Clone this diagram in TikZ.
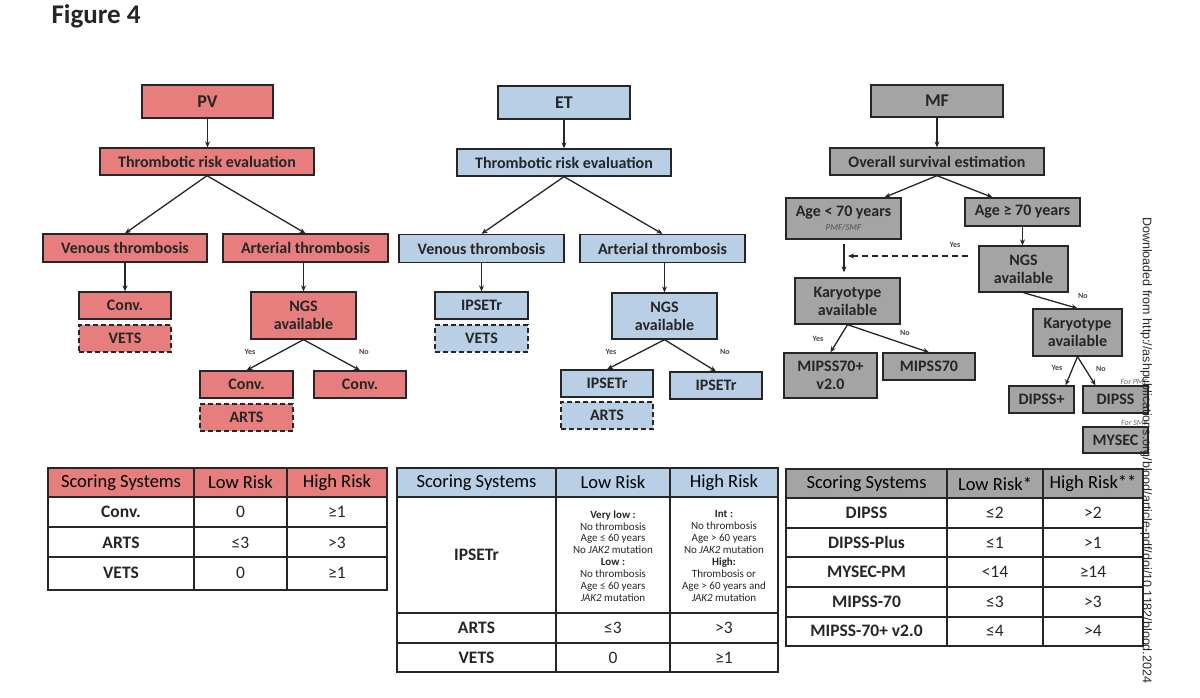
\documentclass[tikz,border=0pt]{standalone}
\usepackage{fontspec}
\setmainfont{Carlito}
\newfontfamily\wmfont{Liberation Sans}
\usetikzlibrary{arrows.meta}

\definecolor{pvred}{HTML}{E57E7D}
\definecolor{etblue}{HTML}{B8CFE6}
\definecolor{mfgray}{HTML}{A4A4A4}
\definecolor{ink}{HTML}{262626}

\tikzset{
  box/.style={draw=ink, line width=1.3pt, text=ink, inner sep=0pt, align=center,
    font=\bfseries\fontsize{16}{18}\selectfont},
  sz/.style 2 args={minimum width=#1pt, minimum height=#2pt},
  pvbox/.style={box, fill=pvred},
  etbox/.style={box, fill=etblue},
  mfbox/.style={box, fill=mfgray},
  topbox/.style={font=\bfseries\fontsize{18}{20}\selectfont},
  dashbox/.style={dash pattern=on 5pt off 3pt},
  arr/.style={-{Stealth[length=6pt,width=5pt]}, line width=1.3pt, draw=ink},
  yn/.style={font=\bfseries\fontsize{8}{9}\selectfont, text=ink!85},
  note/.style={font=\itshape\fontsize{8}{9}\selectfont, text=ink!70, inner sep=1pt},
  tab/.style={line width=1.5pt, draw=ink},
  hd/.style={font=\fontsize{18.5}{20}\selectfont, text=black},
  sysname/.style={font=\bfseries\fontsize{17.5}{20}\selectfont, text=ink},
  val/.style={font=\fontsize{17.5}{20}\selectfont, text=ink},
  small/.style={font=\fontsize{11}{11.9}\selectfont, text=ink, align=center}
}

\begin{document}
\begin{tikzpicture}[x=1pt, y=-1pt]
\useasboundingbox (0,0) rectangle (1200,697);

\node[anchor=base west, font=\bfseries\fontsize{27}{30}\selectfont, text=ink] (fig) at (48,23) {Figure 4};

% PV
\node[pvbox, topbox, sz={131}{33}] (pv) at (207.5,101.5) {PV};
\node[pvbox, sz={214}{27}] (ptre) at (207,161.5) {Thrombotic risk evaluation};
\node[pvbox, sz={164}{28}] (pven) at (125,248) {Venous thrombosis};
\node[pvbox, sz={165}{28}] (part) at (305.5,248) {Arterial thrombosis};
\node[pvbox, sz={92}{27}] (pconv) at (125,305.5) {Conv.};
\node[pvbox, dashbox, sz={92}{27}] (pvets) at (125,338.5) {VETS};
\node[pvbox, sz={105}{47}] (pngs) at (303.5,315.5) {NGS\\available};
\node[pvbox, sz={93}{27}] (pcyes) at (246.5,384.5) {Conv.};
\node[pvbox, dashbox, sz={93}{27}] (parts) at (246.5,417.5) {ARTS};
\node[pvbox, sz={92}{27}] (pcno) at (360,384.5) {Conv.};
\node[yn] (pyes) at (250,352) {Yes};
\node[yn] (pno) at (364,352) {No};

\draw[arr] (pv.south) -- (pv.south |- ptre.north);
\draw[arr] (ptre.south) -- (pven.north);
\draw[arr] (ptre.south) -- (part.north);
\draw[arr] (pven.south) -- (pconv.north);
\draw[arr] (pngs.north |- part.south) -- (pngs.north);
\draw[arr] (pngs.south) -- (pcyes.north);
\draw[arr] (pngs.south) -- (pcno.north);

% ET
\node[etbox, topbox, sz={132}{33}] (et) at (564,102.5) {ET};
\node[etbox, sz={214}{27}] (etre) at (564,162.5) {Thrombotic risk evaluation};
\node[etbox, sz={165}{28}] (even) at (481.5,248.5) {Venous thrombosis};
\node[etbox, sz={165}{28}] (eart) at (662.5,248.5) {Arterial thrombosis};
\node[etbox, sz={93}{27}] (eips) at (481.5,305.5) {IPSETr};
\node[etbox, dashbox, sz={93}{27}] (evets) at (481.5,338.5) {VETS};
\node[etbox, sz={105}{46}] (engs) at (664.5,316) {NGS\\available};
\node[etbox, sz={92}{27}] (eiyes) at (607,383.5) {IPSETr};
\node[etbox, dashbox, sz={92}{27}] (earts) at (607,415.5) {ARTS};
\node[etbox, sz={92}{27}] (eino) at (716,385.5) {IPSETr};
\node[yn] (eyes) at (611,352) {Yes};
\node[yn] (eno) at (725,352) {No};

\draw[arr] (et.south) -- (et.south |- etre.north);
\draw[arr] (etre.south) -- (even.north);
\draw[arr] (etre.south) -- (eart.north);
\draw[arr] (even.south) -- (eips.north);
\draw[arr] (engs.north |- eart.south) -- (engs.north);
\draw[arr] (engs.south) -- (eiyes.north);
\draw[arr] (engs.south) -- (eino.north);

% MF
\node[mfbox, topbox, sz={132}{32}] (mf) at (937,101) {MF};
\node[mfbox, sz={214}{27}] (ose) at (937,161.5) {Overall survival estimation};
\node[mfbox, sz={115}{41}] (age1) at (843.5,218.5) {Age < 70 years\\[-4pt]{\mdseries\itshape\fontsize{9}{10}\selectfont\color{ink!80}PMF/SMF}};
\node[mfbox, sz={115}{28}] (age2) at (1022.5,212) {Age ≥ 70 years};
\node[mfbox, sz={89}{46}] (mngs) at (1023.5,269) {NGS\\available};
\node[mfbox, sz={105}{46}] (kar1) at (847.5,301) {Karyotype\\available};
\node[mfbox, sz={93}{45}] (mip1) at (830.5,375.5) {MIPSS70+\\v2.0};
\node[mfbox, sz={92}{27}] (mip2) at (929,366.5) {MIPSS70};
\node[mfbox, sz={89}{47}] (kar2) at (1077.5,332.5) {Karyotype\\available};
\node[mfbox, sz={65}{27}] (dplus) at (1041.5,399.5) {DIPSS+};
\node[mfbox, sz={65}{27}] (dipss) at (1115.5,399.5) {DIPSS};
\node[mfbox, sz={65}{26}] (mysec) at (1115.5,440) {MYSEC};
\node[note, anchor=south east] (forpmf) at (dipss.north east) {For PMF};
\node[note, anchor=south east] (forsmf) at (mysec.north east) {For SMF};
\coordinate (yesend) at (848,256);
\node[yn] (myes) at (955,245) {Yes};
\node[yn] (mno) at (1083,296) {No};
\node[yn] (k1yes) at (818,339) {Yes};
\node[yn] (k1no) at (905,333) {No};
\node[yn] (k2yes) at (1057,368) {Yes};
\node[yn] (k2no) at (1101,369) {No};

\draw[arr] (mf.south) -- (ose.north);
\draw[arr] (ose.south) -- ([xshift=41pt]age1.north);
\draw[arr] (ose.south) -- ([xshift=-30pt]age2.north);
\draw[arr] (age2.south) -- (age2.south |- mngs.north);
\draw[arr, dash pattern=on 6pt off 4pt] ([xshift=-10pt, yshift=13pt]mngs.west) -- (yesend);
\draw[arr, shorten <=4pt, shorten >=5pt] ([xshift=0.5pt]age1.south) -- ([xshift=0.5pt]age1.south |- kar1.north);
\draw[arr] (kar1.south) -- (mip1.north);
\draw[arr] (kar1.south) -- (mip2.north);
\draw[arr] (mngs.south) -- (kar2.north);
\draw[arr] (kar2.south) -- ([xshift=24pt]dplus.north);
\draw[arr] (kar2.south) -- ([xshift=-20pt]dipss.north);

% scoring table PV
\fill[pvred] (48,468) rectangle (387,497);
\foreach \y in {497,527,557} \draw[tab] (48,\y) -- (387,\y);
\foreach \x in {194,287} \draw[tab] (\x,468) -- (\x,590);
\draw[tab] (48,468) rectangle (387,590);
\node[hd] (pt-s) at (121,482.5) {Scoring Systems};
\node[hd] (pt-l) at (240.5,482.5) {Low Risk};
\node[hd] (pt-h) at (337,482.5) {High Risk};
\foreach \nm/\lo/\hi [count=\i] in {Conv./0/≥1, ARTS/≤3/>3, VETS/0/≥1}{
  \node[sysname] (pt-\i) at (121,481.5+30.5*\i) {\nm};
  \node[val] (pt-\i-lo) at (240.5,481.5+30.5*\i) {\lo};
  \node[val] (pt-\i-hi) at (337,481.5+30.5*\i) {\hi};
}

% scoring table ET
\fill[etblue] (397,468) rectangle (778,497);
\foreach \y in {497,613,643} \draw[tab] (397,\y) -- (778,\y);
\foreach \x in {556,670} \draw[tab] (\x,468) -- (\x,672);
\draw[tab] (397,468) rectangle (778,672);
\node[hd] (et-s) at (476.5,482.5) {Scoring Systems};
\node[hd] (et-l) at (613,482.5) {Low Risk};
\node[hd] (et-h) at (724,482.5) {High Risk};
\node[sysname] (et-1) at (476.5,555) {IPSETr};
\node[small] (et-1-lo) at (613,556) {\textbf{Very low :}\\No thrombosis\\Age ≤ 60 years\\No \textit{JAK2} mutation\\\textbf{Low :}\\No thrombosis\\Age ≤ 60 years\\\textit{JAK2} mutation};
\node[small] (et-1-hi) at (724,556) {\textbf{Int :}\\No thrombosis\\Age > 60 years\\No \textit{JAK2} mutation\\\textbf{High:}\\Thrombosis or\\Age > 60 years and\\\textit{JAK2} mutation};
\node[sysname] (et-2) at (476.5,628) {ARTS};
\node[val] (et-2-lo) at (613,628) {≤3};
\node[val] (et-2-hi) at (724,628) {>3};
\node[sysname] (et-3) at (476.5,657.5) {VETS};
\node[val] (et-3-lo) at (613,657.5) {0};
\node[val] (et-3-hi) at (724,657.5) {≥1};

% scoring table MF
\fill[mfgray] (786,469) rectangle (1143,498);
\foreach \y in {498,528,557,587,617} \draw[tab] (786,\y) -- (1143,\y);
\foreach \x in {947,1043} \draw[tab] (\x,469) -- (\x,646);
\draw[tab] (786,469) rectangle (1143,646);
\node[hd] (mt-s) at (866.5,483.5) {Scoring Systems};
\node[hd] (mt-l) at (995,483.5) {Low Risk*};
\node[hd] (mt-h) at (1093,483.5) {High Risk**};
\foreach \nm/\lo/\hi [count=\i] in {DIPSS/≤2/>2, DIPSS-Plus/≤1/>1, MYSEC-PM/<14/≥14, MIPSS-70/≤3/>3, MIPSS-70+ v2.0/≤4/>4}{
  \node[sysname] (mt-\i) at (866.5,483.5+29.5*\i) {\nm};
  \node[val] (mt-\i-lo) at (995,483.5+29.5*\i) {\lo};
  \node[val] (mt-\i-hi) at (1093,483.5+29.5*\i) {\hi};
}

% download stamp
\node[rotate=-90, anchor=west, inner sep=0pt, text=black!85,
  font=\wmfont\fontsize{12.5}{14}\selectfont] (dl) at (1146,217)
  {Downloaded from http://ashpublications.org/blood/article-pdf/doi/10.1182/blood.2024};
\end{tikzpicture}
\end{document}
